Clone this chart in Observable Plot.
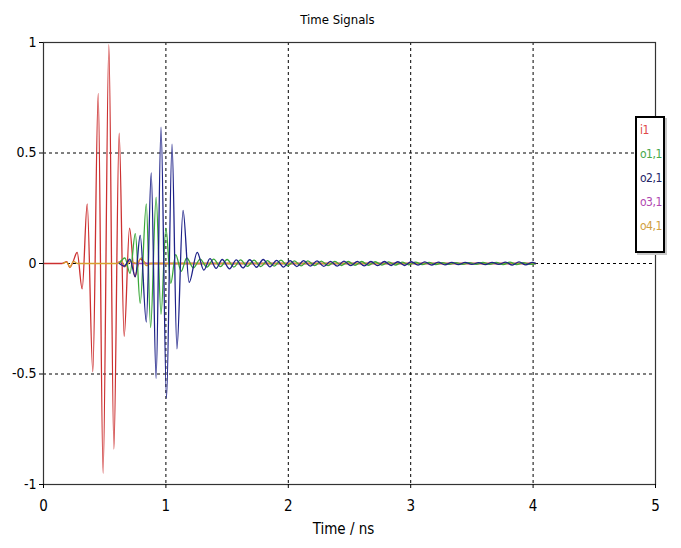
<!DOCTYPE html>
<html>
<head>
<meta charset="utf-8">
<script src="https://cdn.jsdelivr.net/npm/d3@7"></script>
<script src="https://cdn.jsdelivr.net/npm/@observablehq/plot@0.6"></script>
<style>
  html, body { margin: 0; padding: 0; background: #fff; }
  #wrap { position: relative; width: 681px; height: 548px; font-family: "DejaVu Sans Condensed", "Liberation Sans", sans-serif; }
  #legend { position: absolute; left: 635px; top: 116px; width: 23px; height: 133px; border: 2px solid #000; background: #fff; box-shadow: 2px 2px 0 #c8c8c8; font-family: "DejaVu Sans Condensed", sans-serif; font-size: 12px; letter-spacing: -0.5px; line-height: 24px; padding: 0 0 0 3px; box-sizing: content-box; }
  #legend div { white-space: nowrap; }
</style>
</head>
<body>
<div id="wrap"></div>
<script>
// ---- data (time in ns, amplitude) ----
const seriesNames = ["i1", "o1,1", "o2,1", "o3,1", "o4,1"];
const lineColors = ["#cc3030", "#3aa83a", "#1e2288", "#b040b0", "#d8a030"];
const legendColors = ["#e04848", "#48a848", "#242466", "#b048b0", "#d0a040"];
const xTicks = [0, 1, 2, 3, 4, 5];
const yTicks = [-1, -0.5, 0, 0.5, 1];
const title = "Time Signals";
const xLabel = "Time / ns";

const i1 = [[0,0],[0.15,0],[0.19,0.008],[0.215,-0.018],[0.24,0.006],[0.275,0.05],[0.316,-0.115],[0.357,0.27],
  [0.403,-0.49],[0.447,0.77],[0.487,-0.95],[0.534,0.99],[0.575,-0.84],[0.618,0.59],[0.659,-0.33],
  [0.703,0.16],[0.745,-0.06],[0.79,0.02],[0.84,0],[4.02,0]];

const o11 = [[0.62,0],[0.665,0.025],[0.707,-0.045],[0.75,0.135],[0.79,-0.18],[0.84,0.27],[0.875,-0.29],
  [0.92,0.30],[0.96,-0.23],[1.0,0.16],[1.04,-0.09],[1.08,0.04],[1.125,-0.035],[1.17,0.025],[1.225,-0.02],
  [1.28,0.02],[1.335,-0.016],[1.39,0.02],[1.445,-0.014],[1.5,0.018],[1.555,-0.016],[1.61,0.016],[1.665,-0.013],
  [1.72,0.015],[1.775,-0.014],[1.83,0.013],[1.885,-0.012],[1.94,0.015],[1.995,-0.011],[2.05,0.012],[2.105,-0.011],
  [2.16,0.012],[2.215,-0.01],[2.27,0.011],[2.325,-0.01],[2.38,0.01],[2.435,-0.009],[2.49,0.009],[2.545,-0.008],
  [2.6,0.009],[2.655,-0.008],[2.71,0.008],[2.765,-0.007],[2.82,0.007],[2.875,-0.007],[2.93,0.006],[2.985,-0.006],
  [3.04,0.006],[3.095,-0.005],[3.15,0.005],[3.205,-0.005],[3.26,0.004],[3.315,-0.004],[3.37,0.004],[3.425,-0.004],
  [3.48,0.004],[3.535,-0.004],[3.59,0.005],[3.645,-0.004],[3.7,0.005],[3.755,-0.005],[3.81,0.006],[3.865,-0.005],
  [3.92,0.004],[3.975,-0.004],[4.02,0]];

const o21 = [[0.62,0],[0.66,-0.012],[0.705,0.02],[0.75,-0.06],[0.79,0.127],[0.84,-0.265],[0.88,0.41],
  [0.92,-0.52],[0.96,0.617],[1.005,-0.61],[1.05,0.54],[1.09,-0.386],[1.14,0.24],[1.19,-0.085],[1.256,0.05],
  [1.31,-0.03],[1.36,0.022],[1.41,-0.022],[1.46,0.018],[1.52,-0.024],[1.575,0.016],[1.63,-0.02],[1.685,0.017],
  [1.74,-0.017],[1.795,0.018],[1.85,-0.015],[1.905,0.014],[1.96,-0.016],[2.015,0.013],[2.07,-0.014],[2.125,0.013],
  [2.18,-0.012],[2.235,0.012],[2.29,-0.013],[2.345,0.01],[2.4,-0.012],[2.455,0.011],[2.51,-0.01],[2.565,0.01],
  [2.62,-0.011],[2.675,0.009],[2.73,-0.01],[2.785,0.009],[2.84,-0.009],[2.895,0.008],[2.95,-0.009],[3.005,0.008],
  [3.06,-0.007],[3.115,0.007],[3.17,-0.007],[3.225,0.006],[3.28,-0.006],[3.335,0.005],[3.39,-0.005],[3.445,0.005],
  [3.5,-0.004],[3.555,0.004],[3.61,-0.005],[3.665,0.005],[3.72,-0.004],[3.775,0.006],[3.83,-0.007],[3.885,0.007],
  [3.94,-0.006],[3.995,0.005],[4.02,0]];

const o31 = [[0.6,0],[0.63,0.01],[0.66,-0.015],[0.7,0.012],[0.74,0],[4.02,0]];

const o41 = [[0.16,0],[0.19,0.006],[0.215,-0.016],[0.245,0.01],[0.28,0],[0.6,0],[0.635,0.012],[0.67,-0.014],
  [0.71,0.01],[0.76,0],[0.8,0.025],[0.84,-0.01],[0.88,0],[4.02,0]];

// ---- build table ----
const raw = [i1, o11, o21, o31, o41];
const rows = [];
raw.forEach((arr, k) => arr.forEach(([t, v]) => rows.push({series: seriesNames[k], t, v})));
const drawOrder = ["i1", "o3,1", "o4,1", "o1,1", "o2,1"];

const font = '"DejaVu Sans Condensed", "Liberation Sans", sans-serif';

const chart = Plot.plot({
  width: 681,
  height: 548,
  marginLeft: 43,
  marginRight: 26,
  marginTop: 42,
  marginBottom: 64,
  style: {fontFamily: font, fontSize: "14px", color: "#000", background: "#fff"},
  x: {domain: [0, 5], ticks: xTicks, label: null},
  y: {domain: [-1, 1], ticks: yTicks, label: null},
  color: {domain: seriesNames, range: lineColors},
  marks: [
    Plot.gridX([1, 2, 3, 4], {stroke: "#000", strokeOpacity: 1, strokeDasharray: "3,3"}),
    Plot.gridY([-0.5, 0, 0.5], {stroke: "#000", strokeOpacity: 1, strokeDasharray: "3,3"}),
    ...drawOrder.map(name => Plot.line(rows.filter(d => d.series === name), {
      x: "t", y: "v", stroke: "series", strokeWidth: 1.3, curve: "monotone-x"
    })),
    Plot.frame({stroke: "#333", strokeWidth: 1.2}),
    Plot.axisX({ticks: xTicks, tickSize: 4, tickPadding: 12, fontSize: 15, tickFormat: d => String(d)}),
    Plot.axisY({ticks: yTicks, tickSize: 4, tickPadding: 3, fontSize: 14, tickFormat: d => String(d)}),
    Plot.text([title], {frameAnchor: "top", dy: -28, dx: -12, fontSize: 13}),
    Plot.text([xLabel], {frameAnchor: "bottom", dy: 49, dx: -6, fontSize: 15})
  ]
});

const wrap = document.getElementById("wrap");
wrap.appendChild(chart);
const leg = document.createElement("div");
leg.id = "legend";
seriesNames.forEach((n, k) => {
  const d = document.createElement("div");
  d.textContent = n;
  d.style.color = legendColors[k];
  leg.appendChild(d);
});
wrap.appendChild(leg);
</script>
</body>
</html>
